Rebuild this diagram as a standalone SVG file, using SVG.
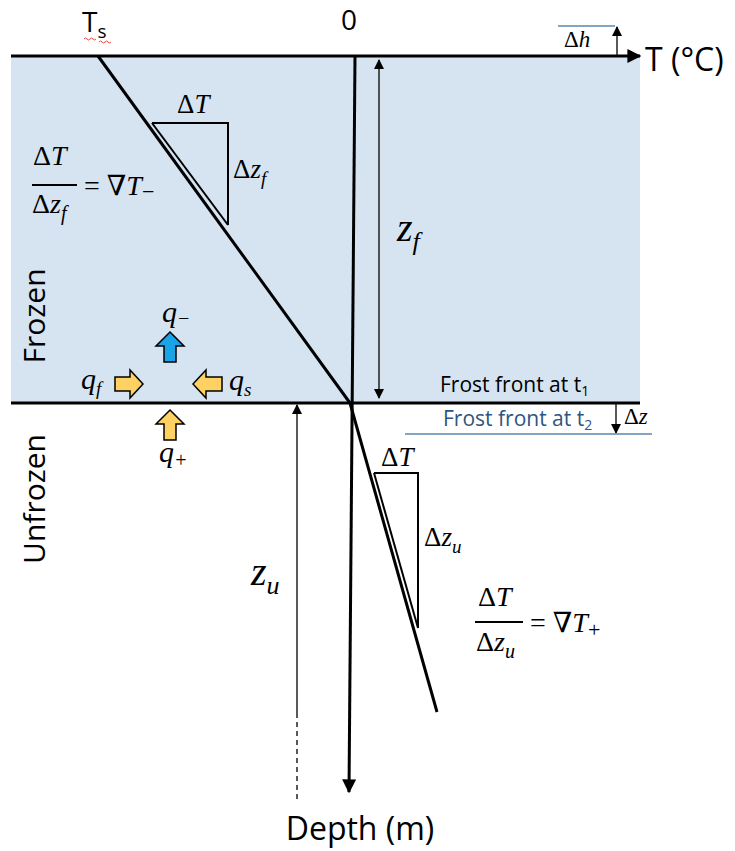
<svg xmlns="http://www.w3.org/2000/svg" width="735" height="851" viewBox="0 0 735 851">
<defs>
<style>
.sans{font-family:"Open Sans","Liberation Sans",sans-serif;fill:#000}
.m{font-family:"Liberation Serif","DejaVu Serif",serif;font-style:italic;fill:#000}
.mu{font-family:"Liberation Serif","DejaVu Serif",serif;fill:#000}
.thick{stroke:#000;stroke-width:3;fill:none}
.thin{stroke:#000;stroke-width:1.3;fill:none}
.tri{stroke:#000;stroke-width:2;fill:none}
.ya{fill:#fdd262;stroke:#000;stroke-width:1.5}
</style>
<marker id="ah" viewBox="0 0 10 10" refX="9" refY="5" markerWidth="10" markerHeight="10" markerUnits="userSpaceOnUse" orient="auto-start-reverse"><path d="M0,0 L10,5 L0,10 z" fill="#000"/></marker>
<marker id="ahb" viewBox="0 0 10 10" refX="9" refY="5" markerWidth="14" markerHeight="14" markerUnits="userSpaceOnUse" orient="auto-start-reverse"><path d="M0,0 L10,5 L0,10 z" fill="#000"/></marker>
</defs>
<rect x="11" y="56" width="629" height="347" fill="#d6e4f2"/>
<g id="connectors">
<line x1="11" y1="56" x2="640" y2="56" class="thick" marker-end="url(#ahb)"/>
<line x1="11" y1="403" x2="640" y2="403" class="thick"/>
<line x1="355" y1="56" x2="349" y2="792" class="thick" marker-end="url(#ahb)"/>
<line x1="98" y1="56" x2="350" y2="403" class="thick"/>
<line x1="350" y1="403" x2="437" y2="712" class="thick"/>
<line x1="379" y1="60" x2="379" y2="398" class="thin" stroke="#444" marker-start="url(#ah)" marker-end="url(#ah)"/>
<line x1="297" y1="713" x2="297" y2="405" class="thin" marker-end="url(#ah)"/>
<line x1="297" y1="713" x2="297" y2="800" class="thin" stroke-dasharray="5,4"/>
<line x1="617" y1="56" x2="617" y2="27" class="thin" marker-end="url(#ah)"/>
<line x1="558" y1="26" x2="615" y2="26" stroke="#5b86b0" stroke-width="1.3"/>
<line x1="616" y1="404" x2="616" y2="433" class="thin" marker-end="url(#ah)"/>
<line x1="405" y1="434" x2="652" y2="434" stroke="#5b86b0" stroke-width="1.3"/>
</g>
<g id="triangle-frozen">
<path d="M152,123 L228,123 L228,225" class="tri"/>
<line x1="152" y1="123" x2="228" y2="225" class="tri"/>
<text x="177" y="113" class="mu" font-size="27">Δ<tspan class="m">T</tspan></text>
<text x="233" y="178" class="mu" font-size="27">Δ<tspan class="m">z</tspan><tspan class="m" font-size="19" dy="7">f</tspan></text>
</g>
<g id="formula-frozen">
<text x="33" y="165" class="mu" font-size="28">Δ<tspan class="m">T</tspan></text>
<line x1="32" y1="185" x2="77" y2="185" stroke="#000" stroke-width="2"/>
<text x="32" y="213" class="mu" font-size="28">Δ<tspan class="m">z</tspan><tspan class="m" font-size="20" dy="7">f</tspan></text>
<text x="84" y="195" class="mu" font-size="28">= ∇<tspan class="m">T</tspan><tspan font-size="22" dy="4">−</tspan></text>
</g>
<g id="triangle-unfrozen">
<path d="M374,473 L418,473 L418,628" class="tri"/>
<line x1="374" y1="473" x2="418" y2="628" class="tri"/>
<text x="381" y="466" class="mu" font-size="27">Δ<tspan class="m">T</tspan></text>
<text x="424" y="546" class="mu" font-size="27">Δ<tspan class="m">z</tspan><tspan class="m" font-size="19" dy="7">u</tspan></text>
</g>
<g id="formula-unfrozen">
<text x="478" y="606" class="mu" font-size="28">Δ<tspan class="m">T</tspan></text>
<line x1="475" y1="622" x2="523" y2="622" stroke="#000" stroke-width="2"/>
<text x="476" y="651" class="mu" font-size="28">Δ<tspan class="m">z</tspan><tspan class="m" font-size="20" dy="7">u</tspan></text>
<text x="530" y="632" class="mu" font-size="28">= ∇<tspan class="m">T</tspan><tspan font-size="22" dy="5">+</tspan></text>
</g>
<g id="labels">
<text x="82" y="32" class="sans" font-size="28">T<tspan font-size="19" dy="6">s</tspan></text>
<path d="M84,39 q1.5,-2 3,0 t3,0 t3,0 t3,0 M99,42 q1.5,-2 3,0 t3,0 t3,0 t3,0" stroke="#e03030" stroke-width="0.9" fill="none"/>
<text x="341" y="30" class="sans" font-size="28">0</text>
<text x="645" y="71" class="sans" font-size="32">T (°C)</text>
<text x="564" y="47" class="mu" font-size="23">Δ<tspan class="m">h</tspan></text>
<text x="397" y="241" class="m" font-size="40">z<tspan font-size="26" dy="9">f</tspan></text>
<text x="251" y="585" class="m" font-size="40">z<tspan font-size="26" dy="9">u</tspan></text>
<text x="440" y="392" class="sans" font-size="21">Frost front at t<tspan font-size="14" dy="4">1</tspan></text>
<text x="443" y="426" class="sans" font-size="21" style="fill:#2e5581">Frost front at t<tspan font-size="14" dy="4">2</tspan></text>
<text x="624" y="424" class="mu" font-size="23">Δ<tspan class="m">z</tspan></text>
<text x="0" y="0" class="sans" font-size="30" text-anchor="middle" transform="translate(45,316) rotate(-90)">Frozen</text>
<text x="0" y="0" class="sans" font-size="30" text-anchor="middle" transform="translate(45,499) rotate(-90)">Unfrozen</text>
<text x="360" y="840" class="sans" font-size="32" text-anchor="middle">Depth (m)</text>
</g>
<g id="fluxes">
<path d="M170,332 L184,346 L176,346 L176,362 L164,362 L164,346 L156,346 Z" fill="#1aa3e6" stroke="#000" stroke-width="1.5"/>
<text x="162" y="322" class="m" font-size="30">q<tspan class="mu" font-size="20" dy="3">−</tspan></text>
<path d="M143,384 L130,370 L130,377 L115,377 L115,391 L130,391 L130,398 Z" class="ya"/>
<text x="81" y="389" class="m" font-size="30">q<tspan font-size="19" dy="6">f</tspan></text>
<path d="M193,384 L206,370 L206,377 L222,377 L222,391 L206,391 L206,398 Z" class="ya"/>
<text x="229" y="390" class="m" font-size="30">q<tspan font-size="19" dy="6">s</tspan></text>
<path d="M170,410 L184,424 L176,424 L176,440 L164,440 L164,424 L156,424 Z" class="ya"/>
<text x="159" y="462" class="m" font-size="30">q<tspan class="mu" font-size="20" dy="5">+</tspan></text>
</g>
</svg>
